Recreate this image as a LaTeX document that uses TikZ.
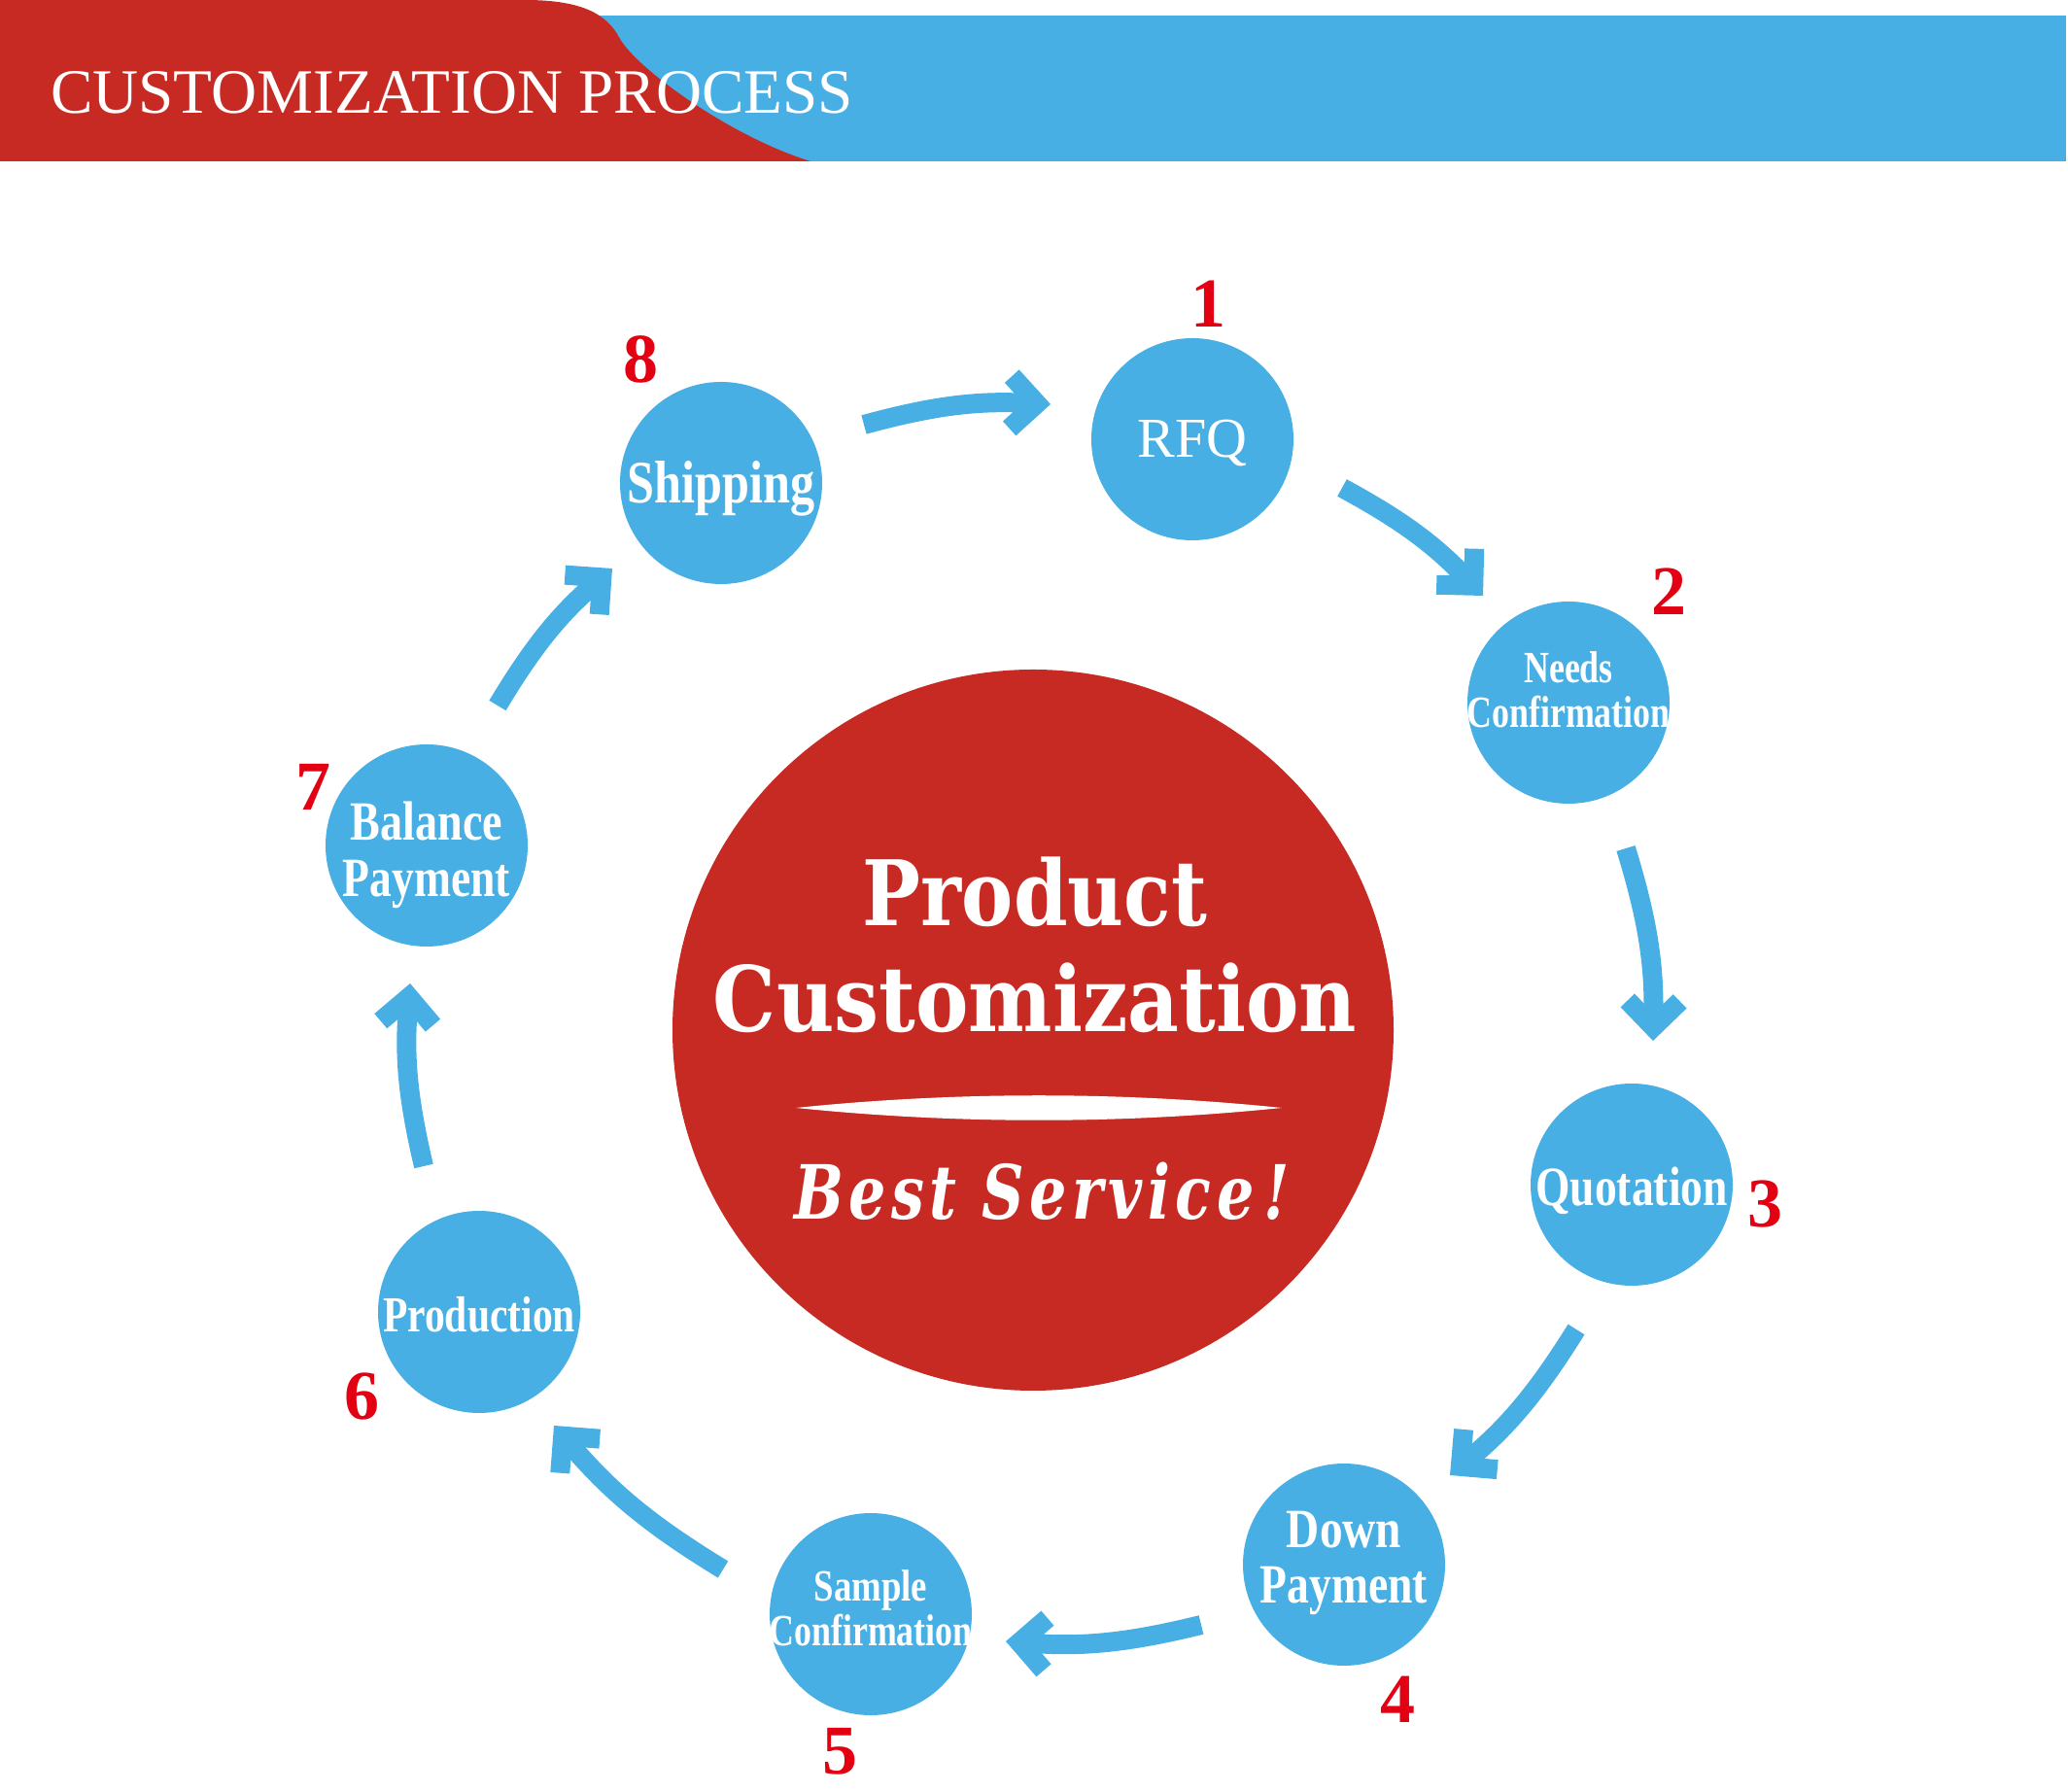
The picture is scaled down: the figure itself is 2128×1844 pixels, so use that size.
\documentclass[tikz,border=0pt]{standalone}
\usepackage{fontspec}
\usepackage{graphicx}
\setmainfont{Liberation Serif}
\newfontfamily\dvs{DejaVu Serif}
\usetikzlibrary{arrows.meta}
\definecolor{cblue}{RGB}{71,175,228}
\definecolor{cred}{RGB}{198,42,34}
\definecolor{numred}{RGB}{226,0,18}

\pgfdeclarearrow{
  name = Chev,
  setup code = {
    \pgfarrowssettipend{0pt}
    \pgfarrowssetlineend{-26pt}
    \pgfarrowssetbackend{-48.2pt}
  },
  drawing code = {
    \pgfpathmoveto{\pgfqpoint{0pt}{0pt}}
    \pgfpathlineto{\pgfqpoint{-34pt}{34pt}}
    \pgfpathlineto{\pgfqpoint{-48.14pt}{19.86pt}}
    \pgfpathlineto{\pgfqpoint{-28.28pt}{0pt}}
    \pgfpathlineto{\pgfqpoint{-48.14pt}{-19.86pt}}
    \pgfpathlineto{\pgfqpoint{-34pt}{-34pt}}
    \pgfpathclose
    \pgfusepathqfill
  }
}

\newcommand{\wfit}[2]{\resizebox{#1}{\height}{#2}}
% raised, zero-size, horizontally squeezed label line
\newcommand{\lab}[3]{\raisebox{#1}[0pt][0pt]{\makebox[0pt]{\scalebox{#2}[1]{#3}}}}

\begin{document}
\begin{tikzpicture}[x=1pt,y=1pt,
  stepcirc/.style={circle, fill=cblue, minimum size=208pt, inner sep=0pt, text=white, align=center},
  num/.style={text=numred, font=\fontsize{72}{72}\selectfont\bfseries, inner sep=0pt, text height=49pt, text depth=0pt},
  flow/.style={draw=cblue, line width=20pt, -{Chev}},
  whitetext/.style={text=white, inner sep=0pt}
]
\useasboundingbox (0,0) rectangle (2128,1844);

% header
\fill[cblue] (600,1678) rectangle (2126,1828);
\fill[cred] (0,1844) -- (540,1844) .. controls (600,1844) and (625,1829) .. (638,1804)
  .. controls (655,1774) and (750,1704) .. (834,1678) -- (0,1678) -- cycle;
\node[whitetext, anchor=base west, font=\fontsize{65}{65}\selectfont] (title) at (52,1727)
  {\wfit{826pt}{CUSTOMIZATION PROCESS}};

% hub
\node[circle, fill=cred, minimum size=742pt, inner sep=0pt] (hub) at (1063,784) {};
\node[whitetext, anchor=base, font=\dvs\bfseries\fontsize{93}{93}\selectfont] (prodt) at (1065,891) {\wfit{354pt}{Product}};
\node[whitetext, anchor=base, font=\dvs\bfseries\fontsize{93}{93}\selectfont] (custt) at (1065,782) {\wfit{662pt}{Customization}};
\fill[white] (819,704) .. controls (985,721) and (1153,721) .. (1319,704)
  .. controls (1153,687) and (985,687) .. (819,704) -- cycle;
\node[whitetext, anchor=base, font=\dvs\bfseries\itshape\fontsize{77}{77}\selectfont\addfontfeatures{LetterSpace=9}] (best) at (1072,589) {\wfit{510pt}{Best Service\,!}};

% steps
\node[stepcirc, font=\fontsize{58}{58}\selectfont] (rfq) at (1227,1392) {\lab{-19pt}{1}{RFQ}};
\node[stepcirc, font=\fontsize{46}{46}\selectfont\bfseries] (needs) at (1614,1121) {\lab{-3pt}{.78}{Needs}\\\lab{-3pt}{.78}{Confirmation}};
\node[stepcirc, font=\fontsize{57}{57}\selectfont\bfseries] (quot) at (1679,625) {\lab{-22pt}{.8}{Quotation}};
\node[stepcirc, font=\fontsize{57}{57}\selectfont\bfseries] (down) at (1383,234) {\lab{-11pt}{.83}{Down}\\\lab{-11pt}{.8}{Payment}};
\node[stepcirc, font=\fontsize{46}{46}\selectfont\bfseries] (sample) at (896,183) {\lab{-10pt}{.8}{Sample}\\\lab{-10pt}{.78}{Confirmation}};
\node[stepcirc, font=\fontsize{52}{52}\selectfont\bfseries] (prod) at (493,494) {\lab{-21pt}{.8}{Production}};
\node[stepcirc, font=\fontsize{57}{58}\selectfont\bfseries] (bal) at (439,974) {\lab{-24pt}{.81}{Balance}\\\lab{-24pt}{.8}{Payment}};
\node[stepcirc, font=\fontsize{62}{62}\selectfont\bfseries] (ship) at (742,1347) {\lab{-21pt}{.81}{Shipping}};

% numbers
\node[num] (n1) at (1243,1532) {1};
\node[num] (n2) at (1717,1236) {2};
\node[num] (n3) at (1816,606) {3};
\node[num] (n4) at (1438,96) {4};
\node[num] (n5) at (864,43) {5};
\node[num] (n6) at (372,408) {6};
\node[num] (n7) at (322,1035) {7};
\node[num] (n8) at (659,1475) {8};

% arrow ends (free ends between the circles)
\coordinate (a8s) at (889,1407);  \coordinate (a8e) at (1081,1428);
\coordinate (a1s) at (1381,1342); \coordinate (a1e) at (1526,1231);
\coordinate (a2s) at (1673,971);  \coordinate (a2e) at (1701,773);
\coordinate (a3s) at (1622,476);  \coordinate (a3e) at (1492,326);
\coordinate (a4s) at (1236,172);  \coordinate (a4e) at (1035,155);
\coordinate (a5s) at (744,229);   \coordinate (a5e) at (570,377);
\coordinate (a6s) at (436,644);   \coordinate (a6e) at (422,832);
\coordinate (a7s) at (512,1118);  \coordinate (a7e) at (630,1259);

% arrows
\draw[flow] (a8s) to[bend left=9] (a8e);
\draw[flow] (a1s) to[bend left=9] (a1e);
\draw[flow] (a2s) to[bend left=9] (a2e);
\draw[flow] (a3s) to[bend left=9] (a3e);
\draw[flow] (a4s) to[bend left=9] (a4e);
\draw[flow] (a5s) to[bend left=9] (a5e);
\draw[flow] (a6s) to[bend left=9] (a6e);
\draw[flow] (a7s) to[bend left=9] (a7e);
\end{tikzpicture}
\end{document}
